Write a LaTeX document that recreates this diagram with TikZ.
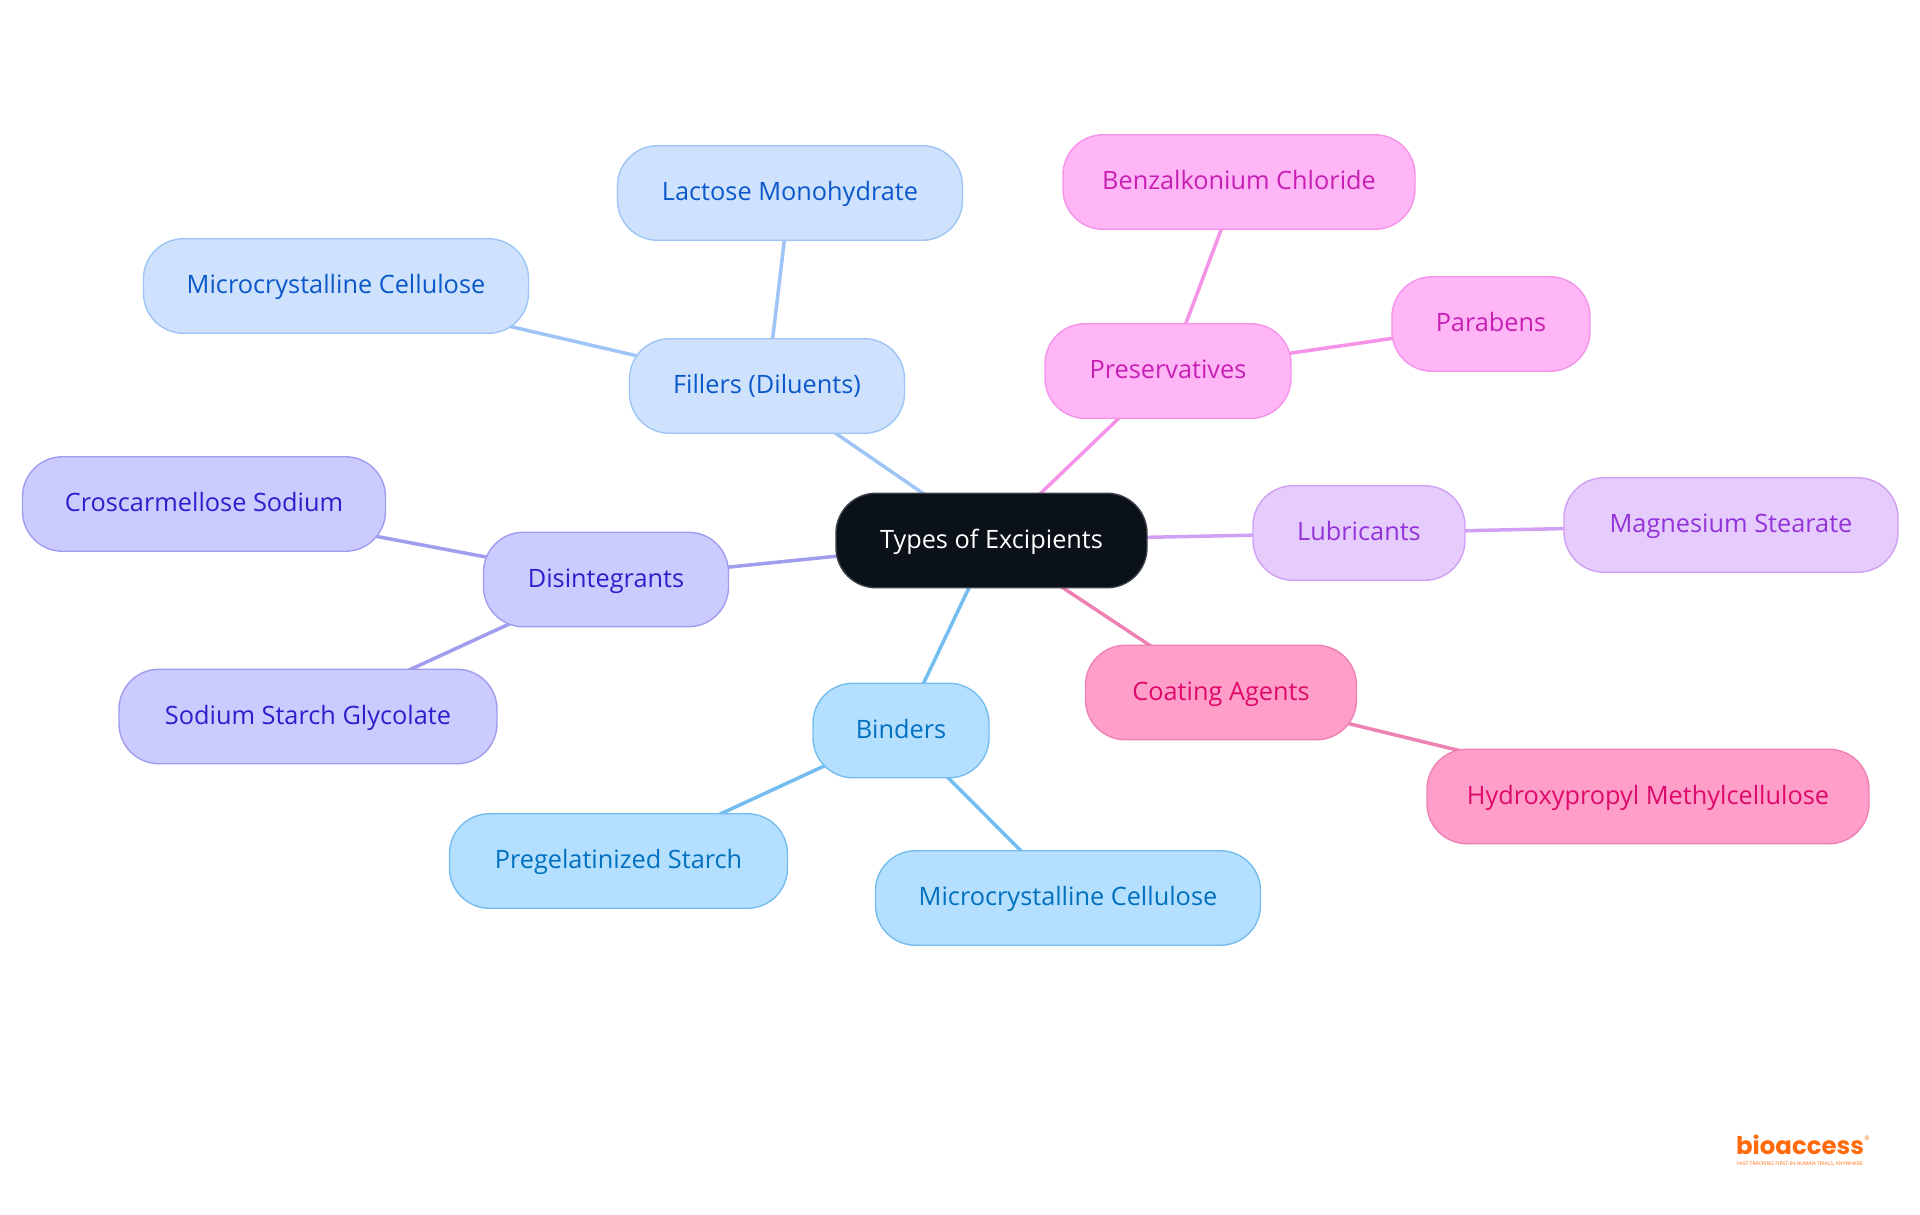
\documentclass[tikz,border=0pt]{standalone}
\usepackage{fontspec}
\setmainfont{Open Sans}
\newfontfamily\logofont{Poppins}
\usetikzlibrary{backgrounds}
\definecolor{rootfill}{HTML}{0B1119}
\definecolor{rootline}{HTML}{3B4047}
\definecolor{fillfill}{HTML}{CFE2FD}
\definecolor{fillline}{HTML}{9EC5F5}
\definecolor{filltext}{HTML}{0A58CA}
\definecolor{bindfill}{HTML}{B5DFFF}
\definecolor{bindline}{HTML}{74BDF0}
\definecolor{bindtext}{HTML}{0070BF}
\definecolor{disfill}{HTML}{CCCBFF}
\definecolor{disline}{HTML}{A09DEE}
\definecolor{distext}{HTML}{2B1FCB}
\definecolor{presfill}{HTML}{FFB6F7}
\definecolor{presline}{HTML}{F493E8}
\definecolor{prestext}{HTML}{C71FB4}
\definecolor{lubfill}{HTML}{E6CCFD}
\definecolor{lubline}{HTML}{CFA0F4}
\definecolor{lubtext}{HTML}{9332D8}
\definecolor{coatfill}{HTML}{FF9EC8}
\definecolor{coatline}{HTML}{EE82B5}
\definecolor{coattext}{HTML}{DE0A6B}
\definecolor{logoorange}{HTML}{FF6B0A}

\begin{document}
\begin{tikzpicture}[x=0.2mm, y=-0.2mm]
\tikzstyle{place}=[rounded corners=0.8cm, minimum height=1.89cm, inner sep=0pt, line width=0.8pt, text height=12pt, text depth=3pt, font=\fontsize{14.4}{17}\selectfont]
\tikzstyle{root}=[place, fill=rootfill, draw=rootline, text=white]
\tikzstyle{fillers}=[place, fill=fillfill, draw=fillline, text=filltext]
\tikzstyle{binders}=[place, fill=bindfill, draw=bindline, text=bindtext]
\tikzstyle{disint}=[place, fill=disfill, draw=disline, text=distext]
\tikzstyle{preserv}=[place, fill=presfill, draw=presline, text=prestext]
\tikzstyle{lubric}=[place, fill=lubfill, draw=lubline, text=lubtext]
\tikzstyle{coating}=[place, fill=coatfill, draw=coatline, text=coattext]
\tikzstyle{edge}=[line width=2pt]

\useasboundingbox (0,0) rectangle (1920,1215);

% Root
\node at (991.5,540.5) [root, minimum width=6.22cm] (root) {Types of Excipients};

% Fillers
\node at (767,386) [fillers, minimum width=5.50cm] (fillers) {Fillers (Diluents)};
\node at (790,193) [fillers, minimum width=6.90cm] (lactose) {Lactose Monohydrate};
\node at (336,286) [fillers, minimum width=7.70cm] (cellulose_a) {Microcrystalline Cellulose};

% Preservatives
\node at (1168,371) [preserv, minimum width=4.92cm] (preservatives) {Preservatives};
\node at (1239,182) [preserv, minimum width=7.04cm] (benzalkonium) {Benzalkonium Chloride};
\node at (1491,324) [preserv, minimum width=3.96cm] (parabens) {Parabens};

% Lubricants
\node at (1359,533) [lubric, minimum width=4.24cm] (lubricants) {Lubricants};
\node at (1731,525) [lubric, minimum width=6.68cm] (magnesium) {Magnesium Stearate};

% Coating
\node at (1221,692.5) [coating, minimum width=5.42cm] (coating) {Coating Agents};
\node at (1648,796.5) [coating, minimum width=8.84cm] (hydroxy) {Hydroxypropyl Methylcellulose};

% Binders
\node at (901,730.5) [binders, minimum width=3.52cm] (binders) {Binders};
\node at (618.5,861) [binders, minimum width=6.76cm] (pregel) {Pregelatinized Starch};
\node at (1068,898) [binders, minimum width=7.70cm] (cellulose_b) {Microcrystalline Cellulose};

% Disintegrants
\node at (606,579.5) [disint, minimum width=4.90cm] (disintegrants) {Disintegrants};
\node at (204,504) [disint, minimum width=7.26cm] (croscarmellose) {Croscarmellose Sodium};
\node at (308,716.5) [disint, minimum width=7.56cm] (glycolate) {Sodium Starch Glycolate};

% Connectors
\begin{pgfonlayer}{background}
\foreach \a/\b in {root/fillers, fillers/lactose, fillers/cellulose_a}
\draw [edge, fillline] (\a.center) -- (\b.center);
\foreach \a/\b in {root/preservatives, preservatives/benzalkonium, preservatives/parabens}
\draw [edge, presline] (\a.center) -- (\b.center);
\foreach \a/\b in {root/lubricants, lubricants/magnesium}
\draw [edge, lubline] (\a.center) -- (\b.center);
\foreach \a/\b in {root/coating, coating/hydroxy}
\draw [edge, coatline] (\a.center) -- (\b.center);
\foreach \a/\b in {root/binders, binders/pregel, binders/cellulose_b}
\draw [edge, bindline] (\a.center) -- (\b.center);
\foreach \a/\b in {root/disintegrants, disintegrants/croscarmellose, disintegrants/glycolate}
\draw [edge, disline] (\a.center) -- (\b.center);
\end{pgfonlayer}

% Logo
\node at (1800,1145) [logoorange, inner sep=0pt, font=\fontsize{13.9}{15}\logofont\bfseries\selectfont] (logo) {bioaccess};
\node at (1867,1138) [logoorange, inner sep=0pt, font=\fontsize{3.5}{4}\selectfont] (logo_mark) {®};
\node at (1800,1163.5) [logoorange, inner sep=0pt, font=\fontsize{2.9}{3}\selectfont] (logo_tag) {FAST-TRACKING FIRST-IN-HUMAN TRIALS, ANYWHERE};
\end{tikzpicture}
\end{document}
